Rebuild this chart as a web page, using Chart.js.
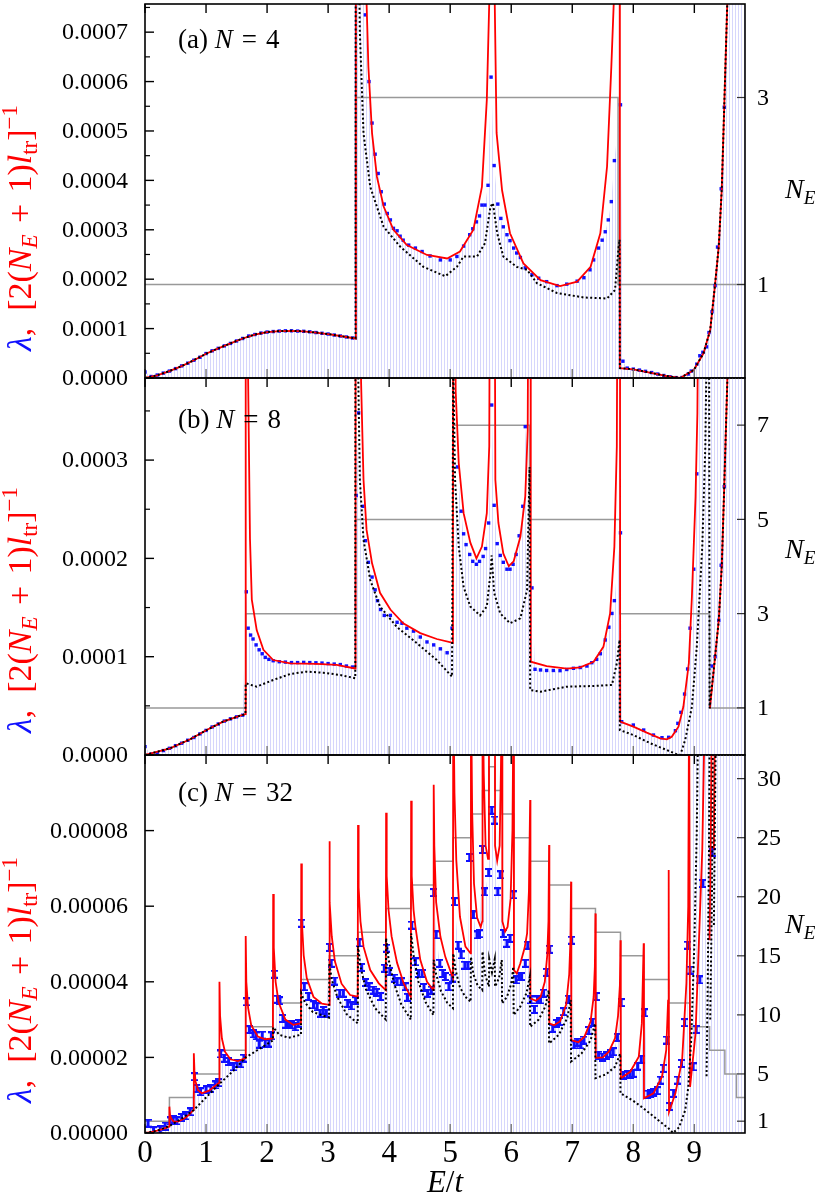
<!DOCTYPE html>
<html>
<head>
<meta charset="utf-8">
<script src="https://cdn.jsdelivr.net/npm/chart.js@4.4.0/dist/chart.umd.min.js"></script>
<style>
body { margin: 0; background: #fff; }
#wrap { position: relative; width: 829px; height: 1203px; }
canvas { position: absolute; left: 0; top: 0; }
</style>
</head>
<body>
<div id="wrap">
<canvas id="ca" width="829" height="1203"></canvas>
<canvas id="cb" width="829" height="1203"></canvas>
<canvas id="cc" width="829" height="1203"></canvas>
</div>
<script>
// ---- data: [E/t, value] ----
const xTickVals = [0, 1, 2, 3, 4, 5, 6, 7, 8, 9];

// (a) N = 4
const lamA = [[0,1.2e-5],[0.1,0.3e-5],[0.2,0.6e-5],[0.3,1.0e-5],[0.4,1.4e-5],[0.5,1.9e-5],[0.6,2.45e-5],[0.7,3.0e-5],[0.8,3.6e-5],[0.9,4.2e-5],[1.0,4.95e-5],[1.1,5.5e-5],[1.2,6.0e-5],[1.3,6.5e-5],[1.4,7.0e-5],[1.5,7.5e-5],[1.6,8.0e-5],[1.7,8.5e-5],[1.8,8.8e-5],[1.9,9.1e-5],[2.0,9.3e-5],[2.1,9.4e-5],[2.2,9.5e-5],[2.3,9.55e-5],[2.4,9.55e-5],[2.5,9.5e-5],[2.6,9.45e-5],[2.7,9.35e-5],[2.8,9.2e-5],[2.9,9.05e-5],[3.0,8.9e-5],[3.1,8.7e-5],[3.2,8.5e-5],[3.3,8.3e-5],[3.4,8.1e-5],
  [3.46,1.5e-3],[3.54,9e-4],[3.61,7.35e-4],[3.67,6.0e-4],[3.72,5.16e-4],[3.77,4.53e-4],[3.82,4.14e-4],[3.87,3.77e-4],[3.92,3.52e-4],[3.97,3.33e-4],[4.02,3.2e-4],[4.07,3.03e-4],[4.13,2.98e-4],[4.18,2.87e-4],[4.23,2.79e-4],[4.32,2.69e-4],[4.43,2.63e-4],[4.54,2.56e-4],[4.67,2.47e-4],[4.84,2.39e-4],[5.0,2.39e-4],[5.11,2.46e-4],[5.22,2.67e-4],[5.32,2.9e-4],[5.37,3.02e-4],[5.43,3.16e-4],[5.48,3.28e-4],[5.52,3.5e-4],[5.57,3.5e-4],[5.62,3.9e-4],[5.67,6.09e-4],[5.72,4.3e-4],[5.78,3.52e-4],[5.83,3.23e-4],[5.87,3.06e-4],[5.93,2.9e-4],[5.98,2.78e-4],[6.04,2.63e-4],[6.09,2.53e-4],[6.15,2.44e-4],[6.23,2.23e-4],[6.34,2.09e-4],[6.45,2.02e-4],[6.58,1.95e-4],[6.75,1.87e-4],[6.91,1.9e-4],[7.08,1.96e-4],[7.19,2.03e-4],[7.29,2.19e-4],[7.35,2.39e-4],[7.43,2.63e-4],[7.49,2.79e-4],[7.54,2.96e-4],[7.59,3.2e-4],[7.64,3.57e-4],[7.69,4.4e-4],[7.79,5.53e-4],
  [7.83,3.4e-5],[7.9,2.0e-5],[8.0,1.8e-5],[8.1,1.6e-5],[8.2,1.35e-5],[8.3,1.1e-5],[8.4,0.8e-5],[8.5,0.5e-5],[8.6,0.25e-5],[8.7,0.08e-5],[8.8,0.1e-5],[8.9,0.8e-5],[8.95,1.4e-5],[9.04,2.8e-5],[9.09,4.5e-5],[9.14,5.2e-5],[9.2,6.3e-5],[9.24,9.2e-5],[9.29,1.34e-4],[9.34,1.87e-4],[9.38,2.65e-4],[9.44,3.83e-4],[9.49,5.48e-4],[9.54,8e-4],[9.6,1.2e-3],[9.83,3e-3]];
const redA = [[0,0],[0.2,0.55e-5],[0.4,1.4e-5],[0.6,2.4e-5],[0.8,3.6e-5],[1.0,4.9e-5],[1.2,6.0e-5],[1.4,7.0e-5],[1.6,8.0e-5],[1.8,8.8e-5],[2.0,9.3e-5],[2.2,9.5e-5],[2.4,9.55e-5],[2.6,9.45e-5],[2.8,9.2e-5],[3.0,8.9e-5],[3.2,8.5e-5],[3.45,8.0e-5],[3.455,2e-3],[3.6,9e-4],[3.63,7.6e-4],[3.66,6.3e-4],[3.72,4.95e-4],[3.8,4.07e-4],[3.91,3.47e-4],[4.07,3.0e-4],[4.29,2.69e-4],[4.62,2.49e-4],[4.95,2.42e-4],[5.16,2.56e-4],[5.38,3.0e-4],[5.52,3.87e-4],[5.6,5.63e-4],[5.64,7.6e-4],[5.67,1.2e-3],[5.7,1.2e-3],[5.73,7.6e-4],[5.76,4.96e-4],[5.85,3.8e-4],[5.98,2.93e-4],[6.2,2.32e-4],[6.48,1.98e-4],[6.8,1.86e-4],[7.08,1.95e-4],[7.3,2.25e-4],[7.46,2.93e-4],[7.57,4.28e-4],[7.64,6.3e-4],[7.68,7.6e-4],[7.72,1.5e-3],[7.775,1.5e-3],[7.78,2.0e-5],[8.0,1.76e-5],[8.33,0.95e-5],[8.55,0.4e-5],[8.77,0],[8.99,1.6e-5],[9.15,5.0e-5],[9.26,9.7e-5],[9.34,1.9e-4],[9.4,2.66e-4],[9.45,3.84e-4],[9.49,5.5e-4],[9.54,7.6e-4],[9.6,1.2e-3]];
const dotA = [[0,0],[0.2,0.55e-5],[0.4,1.4e-5],[0.6,2.4e-5],[0.8,3.6e-5],[1.0,4.9e-5],[1.2,6.0e-5],[1.4,7.0e-5],[1.6,8.0e-5],[1.8,8.8e-5],[2.0,9.3e-5],[2.2,9.5e-5],[2.4,9.55e-5],[2.6,9.45e-5],[2.8,9.2e-5],[3.0,8.9e-5],[3.2,8.5e-5],[3.45,8.0e-5],[3.455,2e-3],[3.5,9e-4],[3.52,7e-4],[3.58,4.95e-4],[3.69,3.87e-4],[3.91,3.06e-4],[4.18,2.66e-4],[4.56,2.25e-4],[4.92,2.06e-4],[5.11,2.25e-4],[5.22,2.46e-4],[5.44,2.46e-4],[5.57,2.73e-4],[5.66,3.47e-4],[5.7,3.54e-4],[5.77,2.93e-4],[5.87,2.46e-4],[6.09,2.25e-4],[6.26,2.19e-4],[6.42,1.92e-4],[6.75,1.72e-4],[7.19,1.63e-4],[7.57,1.61e-4],[7.7,1.78e-4],[7.76,2.66e-4],[7.775,2.8e-4],[7.78,2.0e-5],[8.0,1.76e-5],[8.33,0.95e-5],[8.55,0.4e-5],[8.77,0],[8.99,1.6e-5],[9.15,5.0e-5],[9.26,9.7e-5],[9.34,1.9e-4],[9.4,2.66e-4],[9.45,3.84e-4],[9.49,5.5e-4],[9.54,7.6e-4],[9.6,1.2e-3]];
const stepXA = [0, 3.45, 7.75, 9.83];
const stepNA = [1, 3, 1, 1];
const yTicksA = [0, 0.0001, 0.0002, 0.0003, 0.0004, 0.0005, 0.0006, 0.0007];
const yMinorA = [0.00005, 0.00015, 0.00025, 0.00035, 0.00045, 0.00055, 0.00065, 0.00075];
const nTicksA = [1, 3];

// (b) N = 8
const lamB = [[0,8.5e-6],[0.1,1.0e-6],[0.2,2.0e-6],[0.3,4.5e-6],[0.4,6.8e-6],[0.5,9.5e-6],[0.6,1.2e-5],[0.7,1.5e-5],[0.8,1.78e-5],[0.9,2.15e-5],[1.0,2.5e-5],[1.1,2.85e-5],[1.2,3.15e-5],[1.3,3.45e-5],[1.4,3.68e-5],[1.5,3.88e-5],[1.6,4.05e-5],
  [1.66,1.66e-4],[1.69,1.29e-4],[1.73,1.22e-4],[1.77,1.18e-4],[1.82,1.12e-4],[1.87,1.07e-4],[1.92,1.03e-4],[1.97,9.93e-5],[2.03,9.73e-5],[2.1,9.59e-5],[2.2,9.49e-5],[2.3,9.45e-5],[2.4,9.4e-5],[2.5,9.4e-5],[2.6,9.42e-5],[2.7,9.4e-5],[2.8,9.38e-5],[2.9,9.35e-5],[3.0,9.3e-5],[3.1,9.25e-5],[3.2,9.2e-5],[3.3,9.05e-5],[3.4,8.95e-5],
  [3.46,2.64e-4],[3.5,3.48e-4],[3.57,2.53e-4],[3.61,2.18e-4],[3.66,1.96e-4],[3.72,1.81e-4],[3.77,1.68e-4],[3.81,1.57e-4],[3.86,1.48e-4],[3.92,1.42e-4],[4.02,1.42e-4],[4.13,1.35e-4],[4.21,1.34e-4],[4.29,1.29e-4],[4.4,1.26e-4],[4.51,1.2e-4],[4.62,1.15e-4],[4.73,1.12e-4],[4.84,1.08e-4],[4.95,1.04e-4],[5.03,1.29e-4],
  [5.12,2.93e-4],[5.18,2.48e-4],[5.22,2.25e-4],[5.26,2.14e-4],[5.32,2.04e-4],[5.37,1.97e-4],[5.43,1.94e-4],[5.48,1.97e-4],[5.54,2.02e-4],[5.58,2.1e-4],[5.63,2.36e-4],[5.68,3.56e-4],[5.72,2.54e-4],[5.77,2.15e-4],[5.82,2.03e-4],[5.87,1.96e-4],[5.93,1.89e-4],[5.98,1.89e-4],[6.03,1.94e-4],[6.08,2.04e-4],[6.13,2.23e-4],[6.19,2.53e-4],[6.23,3.34e-4],[6.34,1.7e-4],
  [6.39,8.72e-5],[6.48,8.65e-5],[6.58,8.6e-5],[6.69,8.6e-5],[6.8,8.58e-5],[6.91,8.7e-5],[7.02,8.82e-5],[7.13,8.9e-5],[7.24,9.05e-5],[7.32,9.39e-5],[7.4,9.73e-5],[7.46,1.03e-4],[7.54,1.17e-4],[7.6,1.3e-4],[7.65,1.44e-4],[7.69,1.57e-4],[7.79,2.26e-4],
  [7.81,3.39e-5],[8.0,3.05e-5],[8.17,2.54e-5],[8.33,2.03e-5],[8.47,1.76e-5],[8.58,1.8e-5],[8.69,2.47e-5],[8.73,3.22e-5],[8.78,4.34e-5],[8.84,6.2e-5],[8.89,8.75e-5],[8.93,1.29e-4],[8.99,1.89e-4],[9.04,2.86e-4],[9.09,5e-4],[9.14,8e-4],[9.3,1e-3],[9.83,1e-3]];
const lamB2 = [[9.29,9.05e-5],[9.34,1.0e-4],[9.4,1.37e-4],[9.44,1.93e-4],[9.49,2.73e-4]];
const redB = [[0,0],[0.41,6.8e-6],[0.74,1.6e-5],[1.01,2.54e-5],[1.28,3.4e-5],[1.56,4.0e-5],[1.645,4.15e-5],[1.65,8e-4],[1.66,8e-4],[1.69,3.8e-4],[1.72,2.2e-4],[1.75,1.58e-4],[1.83,1.27e-4],[1.94,1.07e-4],[2.1,9.66e-5],[2.38,9.33e-5],[2.81,9.26e-5],[3.14,9.16e-5],[3.445,8.8e-5],[3.45,8e-4],[3.5,8e-4],[3.54,3.8e-4],[3.58,2.8e-4],[3.63,2.29e-4],[3.72,1.95e-4],[3.85,1.65e-4],[4.02,1.48e-4],[4.23,1.34e-4],[4.51,1.24e-4],[4.78,1.18e-4],[5.045,1.14e-4],[5.05,8e-4],[5.06,8e-4],[5.09,3.7e-4],[5.14,2.97e-4],[5.22,2.46e-4],[5.33,2.16e-4],[5.43,2.0e-4],[5.52,2.12e-4],[5.6,2.46e-4],[5.64,3.14e-4],[5.665,8e-4],[5.715,8e-4],[5.74,2.8e-4],[5.79,2.36e-4],[5.87,2.05e-4],[5.96,1.92e-4],[6.04,1.97e-4],[6.15,2.22e-4],[6.23,2.63e-4],[6.27,3.3e-4],[6.3,8e-4],[6.315,8e-4],[6.32,9.49e-5],[6.58,9.05e-5],[6.91,8.78e-5],[7.13,8.92e-5],[7.35,9.49e-5],[7.51,1.1e-4],[7.62,1.44e-4],[7.69,2.12e-4],[7.73,3.14e-4],[7.76,8e-4],[7.78,8e-4],[7.785,3.39e-5],[8.0,2.88e-5],[8.22,2.27e-5],[8.44,1.7e-5],[8.55,1.6e-5],[8.63,1.86e-5],[8.74,2.88e-5],[8.82,4.9e-5],[8.91,9.33e-5],[8.96,1.61e-4],[9.02,2.63e-4],[9.05,3.48e-4],[9.08,6e-4],[9.1,null],[9.255,4.75e-5],[9.34,1.0e-4],[9.4,1.37e-4],[9.45,1.93e-4],[9.49,2.73e-4],[9.54,3.8e-4],[9.6,6e-4]];
const dotB = [[0,0],[0.41,6.8e-6],[0.74,1.6e-5],[1.01,2.54e-5],[1.28,3.4e-5],[1.56,4.0e-5],[1.645,4.15e-5],[1.65,7.3e-5],[1.83,6.95e-5],[2.1,7.63e-5],[2.38,8.24e-5],[2.65,8.48e-5],[2.92,8.37e-5],[3.2,8.14e-5],[3.445,7.8e-5],[3.45,8e-4],[3.47,8e-4],[3.49,4e-4],[3.52,2.8e-4],[3.58,2.19e-4],[3.69,1.78e-4],[3.85,1.51e-4],[4.13,1.3e-4],[4.45,1.14e-4],[4.78,9.66e-5],[5.03,7.97e-5],[5.05,4e-4],[5.08,2.8e-4],[5.14,2.12e-4],[5.22,1.71e-4],[5.33,1.51e-4],[5.49,1.42e-4],[5.6,1.51e-4],[5.66,1.85e-4],[5.68,2.03e-4],[5.72,1.65e-4],[5.82,1.44e-4],[5.98,1.34e-4],[6.15,1.39e-4],[6.26,1.68e-4],[6.3,2.93e-4],[6.31,6.61e-5],[6.48,6.44e-5],[6.91,6.95e-5],[7.35,7.02e-5],[7.65,7.12e-5],[7.73,9.33e-5],[7.775,1.17e-4],[7.78,2.54e-5],[8.0,2.03e-5],[8.28,1.19e-5],[8.55,5e-6],[8.7,1e-6],[8.77,0],[8.85,1.53e-5],[8.96,4.9e-5],[9.04,1.1e-4],[9.13,2.12e-4],[9.18,3.14e-4],[9.22,5e-4],[9.23,null],[9.24,5e-4],[9.25,4.75e-5],[9.34,1.0e-4],[9.4,1.37e-4],[9.45,1.93e-4],[9.49,2.73e-4],[9.54,3.8e-4],[9.6,6e-4]];
const stepXB = [0, 1.65, 3.45, 5.05, 6.3, 7.78, 9.25, 9.83];
const stepNB = [1, 3, 5, 7, 5, 3, 1, 1];
const yTicksB = [0, 0.0001, 0.0002, 0.0003];
const yMinorB = [0.00005, 0.00015, 0.00025, 0.00035];
const nTicksB = [1, 3, 5, 7];

// (c) N = 32
const lamC = [[0.05,2.6e-6],[0.14,0.6e-6],[0.25,0.8e-6],[0.33,1.85e-6],[0.41,3.2e-6],[0.46,3.6e-6],[0.52,3.2e-6],[0.6,4.1e-6],[0.67,4.5e-6],[0.74,5.6e-6],[0.81,1.49e-5],[0.85,1.18e-5],[0.91,1.09e-5],[1.0,1.14e-5],[1.08,1.18e-5],[1.15,1.27e-5],[1.2,1.33e-5],[1.24,2.09e-5],[1.3,1.98e-5],[1.37,1.89e-5],[1.45,1.75e-5],[1.51,1.84e-5],[1.57,1.83e-5],[1.62,1.98e-5],[1.66,3.47e-5],[1.71,2.74e-5],[1.77,2.62e-5],[1.82,2.57e-5],[1.87,2.35e-5],[1.92,2.59e-5],[1.97,2.37e-5],[2.03,2.38e-5],[2.07,2.57e-5],[2.12,4.2e-5],[2.17,3.54e-5],[2.21,3.5e-5],[2.26,3.03e-5],[2.31,2.88e-5],[2.35,2.86e-5],[2.4,2.86e-5],[2.46,2.81e-5],[2.51,2.9e-5],[2.57,5.55e-5],[2.61,3.87e-5],[2.68,3.61e-5],[2.76,3.39e-5],[2.82,3.34e-5],[2.87,3.17e-5],[2.92,3.24e-5],[2.97,3.17e-5],[3.02,4.91e-5],[3.05,4.49e-5],[3.11,4.02e-5],[3.19,3.7e-5],[3.25,3.7e-5],[3.32,3.43e-5],[3.38,3.36e-5],[3.45,3.5e-5],[3.51,5.03e-5],[3.55,4.38e-5],[3.62,3.98e-5],[3.67,3.87e-5],[3.74,3.78e-5],[3.8,3.72e-5],[3.86,3.61e-5],[3.92,4.36e-5],[3.96,4.89e-5],[4.01,4.27e-5],[4.08,4.1e-5],[4.13,4.0e-5],[4.2,4.0e-5],[4.26,3.87e-5],[4.3,3.59e-5],[4.37,5.5e-5],[4.43,4.53e-5],[4.48,4.22e-5],[4.54,4.22e-5],[4.57,3.85e-5],[4.63,3.7e-5],[4.69,3.78e-5],[4.73,6.36e-5],[4.77,5.24e-5],[4.83,4.49e-5],[4.88,4.22e-5],[4.92,4.14e-5],[4.98,3.87e-5],[5.03,4.1e-5],[5.07,6.12e-5],[5.13,4.97e-5],[5.18,4.71e-5],[5.24,4.44e-5],[5.29,4.44e-5],[5.32,7.29e-5],[5.38,5.77e-5],[5.44,5.24e-5],[5.48,5.27e-5],[5.53,7.5e-5],[5.57,6.38e-5],[5.63,6.89e-5],[5.68,8.54e-5],[5.73,8.28e-5],[5.78,6.38e-5],[5.82,6.83e-5],[5.87,5.28e-5],[5.93,5.02e-5],[5.98,5.15e-5],[6.04,6.3e-5],[6.08,4.05e-5],[6.13,4.14e-5],[6.17,4.14e-5],[6.23,4.49e-5],[6.27,4.97e-5],[6.32,3.52e-5],[6.38,3.27e-5],[6.43,3.52e-5],[6.48,3.52e-5],[6.53,3.7e-5],[6.58,4.25e-5],[6.63,4.86e-5],[6.68,2.77e-5],[6.74,2.9e-5],[6.79,2.95e-5],[6.86,3.21e-5],[6.94,3.54e-5],[6.99,5.1e-5],[7.03,2.33e-5],[7.08,2.4e-5],[7.14,2.33e-5],[7.19,2.46e-5],[7.27,2.71e-5],[7.33,2.93e-5],[7.39,3.61e-5],[7.43,2.06e-5],[7.49,2.01e-5],[7.56,2.05e-5],[7.62,2.1e-5],[7.67,2.15e-5],[7.74,2.53e-5],[7.8,3.45e-5],[7.84,1.53e-5],[7.9,1.54e-5],[7.95,1.55e-5],[8.0,1.58e-5],[8.07,1.77e-5],[8.13,1.95e-5],[8.19,3.18e-5],[8.24,1.03e-5],[8.28,1.05e-5],[8.33,1.08e-5],[8.39,1.12e-5],[8.44,1.4e-5],[8.49,1.71e-5],[8.55,2.46e-5],[8.6,7e-6],[8.66,1.05e-5],[8.73,1.4e-5],[8.79,1.84e-5],[8.84,2.92e-5],[8.89,4.97e-5],[8.93,4.31e-5],[9.0,3e-4],[9.83,3e-4]];
const lamC2 = [[8.98,1.75e-5],[9.03,2.74e-5],[9.09,4.05e-5],[9.14,6.6e-5],[9.29,7.42e-5]];
const redC = [[0,0],[0.1,2e-7],[0.2,6e-7],[0.3,1.1e-6],[0.395,1.7e-6],
  [0.4,6.96e-6],[0.41,4.8e-6],[0.43,3.8e-6],[0.47,3.0e-6],[0.55,3.1e-6],[0.65,3.9e-6],[0.72,4.8e-6],[0.795,6.1e-6],
  [0.8,2.11e-5],[0.81,1.65e-5],[0.83,1.35e-5],[0.87,1.13e-5],[0.93,1.05e-5],[1.05,1.12e-5],[1.215,1.33e-5],
  [1.22,4.0e-5],[1.23,3.1e-5],[1.26,2.5e-5],[1.31,2.15e-5],[1.4,1.95e-5],[1.52,1.9e-5],[1.645,1.98e-5],
  [1.65,5.21e-5],[1.66,4.0e-5],[1.69,3.3e-5],[1.74,2.85e-5],[1.85,2.55e-5],[1.97,2.48e-5],[2.095,2.5e-5],
  [2.1,6.32e-5],[2.11,4.9e-5],[2.14,4.0e-5],[2.19,3.45e-5],[2.3,3.0e-5],[2.43,2.86e-5],[2.555,2.9e-5],
  [2.56,7.13e-5],[2.57,5.6e-5],[2.6,4.7e-5],[2.65,4.1e-5],[2.76,3.6e-5],[2.9,3.42e-5],[3.015,3.39e-5],
  [3.02,7.72e-5],[3.03,6.1e-5],[3.06,5.2e-5],[3.11,4.55e-5],[3.22,3.95e-5],[3.36,3.65e-5],[3.485,3.61e-5],
  [3.49,8.15e-5],[3.5,6.5e-5],[3.53,5.6e-5],[3.58,4.93e-5],[3.69,4.31e-5],[3.83,3.96e-5],[3.945,3.78e-5],
  [3.95,8.47e-5],[3.96,6.8e-5],[3.99,5.9e-5],[4.04,5.2e-5],[4.13,4.5e-5],[4.24,3.95e-5],[4.355,3.6e-5],
  [4.36,8.79e-5],[4.37,6.8e-5],[4.4,5.9e-5],[4.43,5.46e-5],[4.51,4.58e-5],[4.62,4.0e-5],[4.725,3.78e-5],
  [4.73,9.21e-5],[4.74,7.6e-5],[4.77,6.1e-5],[4.84,5.19e-5],[4.92,4.66e-5],[5.045,4.1e-5],
  [5.05,1.2e-4],[5.07,9e-5],[5.1,7.22e-5],[5.16,5.72e-5],[5.25,4.93e-5],[5.335,4.75e-5],
  [5.34,1.2e-4],[5.36,8.5e-5],[5.39,6.6e-5],[5.44,5.7e-5],[5.5,5.45e-5],[5.525,5.6e-5],
  [5.53,1.2e-4],[5.55,9.5e-5],[5.58,7.6e-5],[5.62,7.25e-5],[5.635,7.6e-5],
  [5.64,3e-4],[5.685,1.2e-4],[5.73,3e-4],
  [5.735,7.6e-5],[5.77,7.2e-5],[5.81,7.6e-5],[5.83,9.5e-5],[5.85,1.2e-4],
  [5.855,5.6e-5],[5.9,5.33e-5],[5.94,5.45e-5],[5.99,6.2e-5],[6.02,8e-5],[6.04,1.2e-4],
  [6.045,4.31e-5],[6.09,4.22e-5],[6.15,4.49e-5],[6.22,4.9e-5],[6.26,5.28e-5],[6.29,6.4e-5],[6.31,8.81e-5],
  [6.315,3.56e-5],[6.4,3.5e-5],[6.48,3.6e-5],[6.55,4.0e-5],[6.59,4.7e-5],[6.61,5.6e-5],[6.62,7.62e-5],
  [6.625,2.9e-5],[6.7,2.85e-5],[6.8,2.95e-5],[6.9,3.4e-5],[6.95,4.2e-5],[6.97,5.1e-5],[6.98,6.65e-5],
  [6.985,2.46e-5],[7.1,2.4e-5],[7.2,2.55e-5],[7.3,2.95e-5],[7.35,3.6e-5],[7.37,4.4e-5],[7.38,5.81e-5],
  [7.385,1.99e-5],[7.5,2.0e-5],[7.6,2.15e-5],[7.7,2.5e-5],[7.75,3.1e-5],[7.78,3.9e-5],[7.79,5.1e-5],
  [7.795,1.45e-5],[7.95,1.62e-5],[8.09,2.02e-5],[8.14,2.9e-5],[8.17,5.02e-5],
  [8.175,9.2e-6],[8.33,1.05e-5],[8.47,1.49e-5],[8.54,2.2e-5],[8.57,3.5e-5],[8.58,6.96e-5],
  [8.585,5.6e-6],[8.69,1.05e-5],[8.8,1.93e-5],[8.87,3.96e-5],[8.9,6e-5],[8.915,1.2e-4],
  [8.925,1.2e-4],[8.93,1.22e-5],[9.02,2.64e-5],[9.07,4.84e-5],[9.13,7.49e-5],[9.18,1.2e-4],
  [9.2,null],[9.25,5.1e-5],[9.27,8e-5],[9.29,1.2e-4],[9.3,null],[9.32,7.5e-5],[9.34,1.2e-4]];
const dotC = [[0,0],[0.2,6e-7],[0.4,1.85e-6],[0.6,3.8e-6],[0.8,6.1e-6],[1.0,9.4e-6],[1.22,1.3e-5],[1.45,1.65e-5],[1.65,2.0e-5],[1.9,2.25e-5],[2.095,2.45e-5],
  [2.1,2.8e-5],[2.2,2.6e-5],[2.35,2.52e-5],[2.555,2.6e-5],
  [2.56,3.7e-5],[2.62,3.45e-5],[2.75,3.2e-5],[3.015,3.05e-5],
  [3.02,4.5e-5],[3.06,4.05e-5],[3.15,3.6e-5],[3.3,3.15e-5],[3.485,2.9e-5],
  [3.49,4.95e-5],[3.53,4.4e-5],[3.62,3.8e-5],[3.77,3.3e-5],[3.945,3.0e-5],
  [3.95,5.15e-5],[3.99,4.6e-5],[4.08,3.95e-5],[4.2,3.4e-5],[4.355,3.0e-5],
  [4.36,5.28e-5],[4.4,4.7e-5],[4.48,4.0e-5],[4.6,3.45e-5],[4.725,3.12e-5],
  [4.73,4.58e-5],[4.77,4.2e-5],[4.85,3.75e-5],[4.95,3.45e-5],[5.045,3.3e-5],
  [5.05,4.75e-5],[5.09,4.3e-5],[5.16,3.85e-5],[5.25,3.6e-5],[5.335,3.47e-5],
  [5.34,4.66e-5],[5.38,4.2e-5],[5.45,3.9e-5],[5.525,3.78e-5],
  [5.53,4.8e-5],[5.57,4.2e-5],[5.635,3.87e-5],
  [5.64,4.6e-5],[5.685,4.25e-5],[5.73,4.6e-5],
  [5.735,3.87e-5],[5.8,4.1e-5],[5.845,4.58e-5],
  [5.85,3.43e-5],[5.93,3.6e-5],[6.0,3.95e-5],[6.035,4.4e-5],
  [6.04,3.12e-5],[6.15,3.35e-5],[6.25,3.7e-5],[6.305,4.14e-5],
  [6.31,2.81e-5],[6.45,3.0e-5],[6.56,3.35e-5],[6.615,3.78e-5],
  [6.62,2.37e-5],[6.78,2.6e-5],[6.92,3.05e-5],[6.975,3.52e-5],
  [6.98,1.89e-5],[7.15,2.1e-5],[7.3,2.45e-5],[7.375,2.9e-5],
  [7.38,1.45e-5],[7.55,1.55e-5],[7.7,1.75e-5],[7.785,2.1e-5],
  [7.79,1.05e-5],[8.0,8.5e-6],[8.17,6.5e-6],[8.4,3.5e-6],[8.58,1.2e-6],[8.65,0],[8.75,1.5e-6],[8.85,6e-6],[8.9,1.2e-5],[8.95,2.5e-5],[9.0,5e-5],[9.04,8e-5],[9.07,1.2e-4],
  [9.1,null],[9.2,1.5e-5],[9.22,4e-5],[9.24,7.5e-5],[9.255,1.2e-4],[9.258,null],[9.26,3e-5],[9.29,6.5e-5],[9.31,1.2e-4],[9.315,null],[9.32,5.5e-5],[9.36,1.2e-4]];
const stepXC = [0,0.4,0.8,1.22,1.65,2.1,2.56,3.02,3.49,3.95,4.36,4.73,5.05,5.34,5.53,5.64,5.73,5.85,6.04,6.31,6.62,6.98,7.38,7.79,8.17,8.58,8.93,9.25,9.5,9.69,9.83];
const stepNC = [1,3,5,7,9,11,13,15,17,19,21,23,25,27,29,31,29,27,25,23,21,19,17,15,13,11,9,7,5,3,3];
const yTicksC = [0, 0.00002, 0.00004, 0.00006, 0.00008];
const nTicksC = [1, 5, 10, 15, 20, 25, 30];

// ---- drawing ----
const SERIF = '"Liberation Serif", "Times New Roman", serif';
const RED = '#ff0000', BLUE = '#1010ff';
Chart.defaults.font.family = SERIF;
const pts = a => a.map(p => ({ x: p[0], y: p[1] }));

function rich(ctx, parts, x, y) {
  let cx = x;
  for (const p of parts) {
    ctx.font = p.f; ctx.fillStyle = p.c || '#000';
    ctx.fillText(p.t, cx, y + (p.dy || 0));
    cx += ctx.measureText(p.t).width;
  }
  return cx - x;
}
function richWidth(ctx, parts) {
  let w = 0;
  for (const p of parts) { ctx.font = p.f; w += ctx.measureText(p.t).width; }
  return w;
}

function errIcon() {
  const c = document.createElement('canvas');
  c.width = 7; c.height = 9;
  const g = c.getContext('2d');
  g.fillStyle = BLUE;
  g.fillRect(0, 0, 7, 2); g.fillRect(0, 7, 7, 2); g.fillRect(2, 0, 3, 9);
  return c;
}

const deco = {
  id: 'deco',
  afterDatasetsDraw(chart, args, o) {
    const { ctx, chartArea: a, scales } = chart;
    const x = scales.x, y = scales.y, y2 = scales.y2;
    ctx.save();
    const seg = (x1, y1, x2, yy2, col, w) => {
      ctx.strokeStyle = col; ctx.lineWidth = w; ctx.beginPath(); ctx.moveTo(x1, y1); ctx.lineTo(x2, yy2); ctx.stroke();
    };
    xTickVals.forEach(v => {
      const p = x.getPixelForValue(v);
      seg(p, a.top, p, a.top + 9, '#000', 1.4);
      seg(p, a.bottom, p, a.bottom - 9, '#777', 1.4);
    });
    o.yTicks.forEach(v => { const p = y.getPixelForValue(v); seg(a.left, p, a.left + 9, p, '#000', 1.4); });
    o.yMinor.forEach(v => { const p = y.getPixelForValue(v); seg(a.left, p, a.left + 5, p, '#000', 1.2); });
    o.nTicks.forEach(v => { const p = y2.getPixelForValue(v); seg(a.right, p, a.right - 8, p, '#333', 1.2); });
    ctx.strokeStyle = '#000'; ctx.lineWidth = 1.6;
    ctx.strokeRect(a.left, a.top, a.right - a.left, a.bottom - a.top);

    // tick labels
    ctx.fillStyle = '#000';
    ctx.font = `24px ${SERIF}`;
    ctx.textBaseline = 'middle';
    ctx.textAlign = 'right';
    o.yTicks.forEach(v => ctx.fillText(v.toFixed(o.digits), a.left - 17, y.getPixelForValue(v) + 1));
    ctx.textAlign = 'left';
    o.nTicks.forEach(v => ctx.fillText(String(v), a.right + 12, y2.getPixelForValue(v) + 1));

    ctx.textBaseline = 'alphabetic';
    // panel label
    rich(ctx, [
      { t: o.tag + ' ', f: `27px ${SERIF}` },
      { t: 'N', f: `italic 27px ${SERIF}` },
      { t: '\u2004=\u2004' + o.nval, f: `27px ${SERIF}` }
    ], a.left + 33, o.tagY);
    // right axis title
    rich(ctx, [
      { t: 'N', f: `italic 28px ${SERIF}` },
      { t: 'E', f: `italic 19px ${SERIF}`, dy: 6 }
    ], 785, o.neY);
    // left axis title (rotated, two colours)
    const parts = [
      { t: 'λ', f: `italic 34px ${SERIF}`, c: BLUE },
      { t: ',\u2002[2(', f: `34px ${SERIF}`, c: RED },
      { t: 'N', f: `italic 34px ${SERIF}`, c: RED },
      { t: 'E', f: `italic 23px ${SERIF}`, c: RED, dy: 6 },
      { t: '\u2004+\u20041)', f: `34px ${SERIF}`, c: RED },
      { t: 'l', f: `italic 34px ${SERIF}`, c: RED },
      { t: 'tr', f: `23px ${SERIF}`, c: RED, dy: 6 },
      { t: ']', f: `34px ${SERIF}`, c: RED },
      { t: '\u22121', f: `23px ${SERIF}`, c: RED, dy: -14 }
    ];
    ctx.save();
    ctx.translate(31, o.titleY);
    ctx.rotate(-Math.PI / 2);
    rich(ctx, parts, -richWidth(ctx, parts) / 2, 0);
    ctx.restore();

    if (o.xAxis) {
      ctx.fillStyle = '#000'; ctx.textAlign = 'center';
      ctx.font = `31px ${SERIF}`;
      xTickVals.forEach(v => ctx.fillText(String(v), x.getPixelForValue(v), a.bottom + 29));
      ctx.textAlign = 'left';
      const tp = [
        { t: 'E', f: `italic 31px ${SERIF}` },
        { t: '/', f: `31px ${SERIF}` },
        { t: 't', f: `italic 31px ${SERIF}` }
      ];
      rich(ctx, tp, (a.left + a.right) / 2 - richWidth(ctx, tp) / 2, a.bottom + 59);
    }
    ctx.restore();
  }
};

function panel(id, c) {
  const canvas = document.getElementById(id);
  const ctx = canvas.getContext('2d');
  const pc = document.createElement('canvas');
  pc.width = 3; pc.height = 4;
  const pg = pc.getContext('2d');
  pg.fillStyle = 'rgb(214,214,252)';
  pg.fillRect(0, 0, 1, 4);
  const lav = ctx.createPattern(pc, 'repeat');
  const marker = c.err ? { pointStyle: errIcon(), pointRadius: 3 } : { pointStyle: 'rect', pointRadius: 2.4 };

  return new Chart(ctx, {
    type: 'line',
    data: {
      datasets: [
        { data: pts(c.dot), borderColor: '#000', borderWidth: 2, borderDash: [2, 2.4], pointRadius: 0, fill: false, yAxisID: 'y', clip: 0 },
        { data: pts(c.red), borderColor: RED, borderWidth: 1.8, pointRadius: 0, fill: false, yAxisID: 'y', clip: 0 },
        Object.assign({ data: pts(c.lam2), showLine: false, pointBackgroundColor: BLUE, pointBorderWidth: 0, fill: false, yAxisID: 'y', clip: 0 }, marker),
        Object.assign({ data: pts(c.lam), borderWidth: 0, borderColor: 'rgba(0,0,0,0)', backgroundColor: lav, pointBackgroundColor: BLUE, pointBorderWidth: 0, fill: 'origin', yAxisID: 'y', clip: 0 }, marker),
        { data: c.stepX.map((v, i) => ({ x: v, y: c.stepN[i] })), stepped: true, borderColor: '#999', borderWidth: 1.5, pointRadius: 0, fill: false, yAxisID: 'y2', clip: 0 }
      ]
    },
    options: {
      responsive: false,
      animation: false,
      events: [],
      devicePixelRatio: 1,
      layout: { padding: { top: c.top, bottom: 1203 - c.bottom, left: 0, right: 0 } },
      plugins: {
        legend: { display: false },
        tooltip: { enabled: false },
        filler: { drawTime: 'beforeDatasetsDraw' },
        deco: Object.assign({ digits: c.digits }, c.deco)
      },
      scales: {
        x: { type: 'linear', min: 0, max: 9.83, display: false },
        y: {
          type: 'linear', position: 'left', min: 0, max: c.ymax,
          grid: { display: false, drawTicks: false, tickLength: 0 },
          border: { display: false },
          ticks: { display: false },
          afterFit: s => { s.width = 145; s.paddingTop = 0; s.paddingBottom = 0; }
        },
        y2: {
          type: 'linear', position: 'right', min: 0, max: c.nmax,
          grid: { display: false, drawTicks: false, tickLength: 0 },
          border: { display: false },
          ticks: { display: false },
          afterFit: s => { s.width = 84; s.paddingTop = 0; s.paddingBottom = 0; }
        }
      }
    },
    plugins: [deco]
  });
}

panel('ca', {
  lam: lamA, lam2: [], red: redA, dot: dotA, stepX: stepXA, stepN: stepNA,
  top: 3, bottom: 378, ymax: 0.000757, digits: 4, nmax: 4,
  deco: { yTicks: yTicksA, yMinor: yMinorA, nTicks: nTicksA, tag: '(a)', nval: '4', tagY: 48, neY: 198, titleY: 228, xAxis: false }
});
panel('cb', {
  lam: lamB, lam2: lamB2, red: redB, dot: dotB, stepX: stepXB, stepN: stepNB,
  top: 378, bottom: 755, ymax: 0.0003835, digits: 4, nmax: 8,
  deco: { yTicks: yTicksB, yMinor: yMinorB, nTicks: nTicksB, tag: '(b)', nval: '8', tagY: 428, neY: 558, titleY: 610, xAxis: false }
});
panel('cc', {
  lam: lamC, lam2: lamC2, red: redC, dot: dotC, stepX: stepXC, stepN: stepNC, err: true,
  top: 755, bottom: 1133, ymax: 0.0001, digits: 5, nmax: 32,
  deco: { yTicks: yTicksC, yMinor: [], nTicks: nTicksC, tag: '(c)', nval: '32', tagY: 801, neY: 933, titleY: 980, xAxis: true }
});
</script>
</body>
</html>
